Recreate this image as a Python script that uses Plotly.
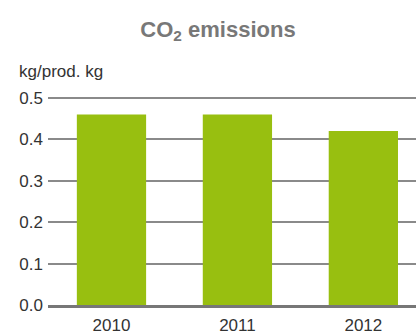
import plotly.graph_objects as go

years = ["2010", "2011", "2012"]
emissions = [0.46, 0.46, 0.42]
y_ticks = [0.0, 0.1, 0.2, 0.3, 0.4, 0.5]
y_tick_text = ["0.0", "0.1", "0.2", "0.3", "0.4", "0.5"]

W, H = 416, 335
ml, mr, mt, mb = 48, 0, 96, 28
plot_h = H - mt - mb

fig = go.Figure(
    go.Bar(
        x=list(range(len(years))),
        y=emissions,
        marker=dict(color="#98bf10", line=dict(width=0)),
        width=0.55,
    )
)

fig.update_layout(
    width=W,
    height=H,
    margin=dict(l=ml, r=mr, t=mt, b=mb),
    paper_bgcolor="white",
    plot_bgcolor="white",
    showlegend=False,
    font=dict(family="Liberation Sans, Arial, sans-serif", color="#333333"),
    title=dict(
        text="<b>CO<sub>2</sub> emissions</b>",
        xref="container",
        yref="container",
        x=218 / W,
        y=1 - 29 / H,
        xanchor="center",
        yanchor="middle",
        font=dict(size=22, color="#787878"),
    ),
    xaxis=dict(
        tickmode="array",
        tickvals=list(range(len(years))),
        ticktext=years,
        range=[-0.504, 2.418],
        showgrid=False,
        zeroline=False,
        showline=True,
        linecolor="#777777",
        linewidth=3,
        ticks="",
        ticklabelstandoff=3,
        tickfont=dict(size=17, color="#333333"),
    ),
    yaxis=dict(
        range=[0, 0.5 + 2 / (plot_h - 2) * 0.5],
        tickmode="array",
        tickvals=y_ticks,
        ticktext=y_tick_text,
        showgrid=True,
        gridcolor="#8a8a8a",
        gridwidth=1.5,
        zeroline=False,
        showline=False,
        ticks="",
        ticklabelstandoff=4,
        tickfont=dict(size=17, color="#333333"),
    ),
    annotations=[
        dict(
            text="kg/prod. kg",
            xref="paper",
            yref="paper",
            x=(17 - ml) / (W - ml - mr),
            y=(H - mb - 71) / plot_h,
            xanchor="left",
            yanchor="middle",
            showarrow=False,
            font=dict(size=17, color="#333333"),
        )
    ],
)

fig.write_html("out.html")
